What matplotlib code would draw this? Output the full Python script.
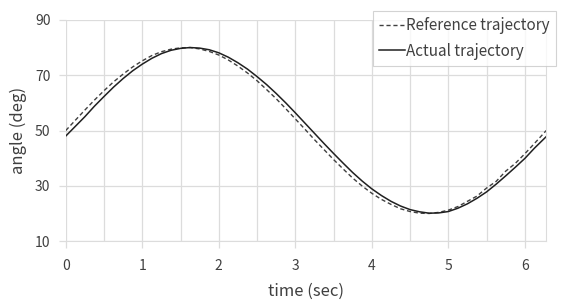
import matplotlib.pyplot as plt
import numpy as np

plt.rcParams['font.family'] = ['Noto Sans CJK KR', 'DejaVu Sans']

# values (every 0.125 s)
t = [0, 0.125, 0.25, 0.375, 0.5, 0.625, 0.75, 0.875, 1.0, 1.125, 1.25, 1.375,
     1.5, 1.625, 1.75, 1.875, 2.0, 2.125, 2.25, 2.375, 2.5, 2.625, 2.75,
     2.875, 3.0, 3.125, 3.25, 3.375, 3.5, 3.625, 3.75, 3.875, 4.0, 4.125,
     4.25, 4.375, 4.5, 4.625, 4.75, 4.875, 5.0, 5.125, 5.25, 5.375, 5.5,
     5.625, 5.75, 5.875, 6.0, 6.125, 6.28]
ref_angle = [50, 53.7, 57.4, 61.0, 64.4, 67.6, 70.4, 73.0, 75.2, 77.1, 78.5,
             79.4, 79.9, 80.0, 79.5, 78.6, 77.3, 75.5, 73.3, 70.8, 68.0, 64.8,
             61.5, 57.9, 54.2, 50.5, 46.7, 43.1, 39.5, 36.1, 32.8, 29.9, 27.3,
             25.1, 23.3, 21.7, 20.7, 20.1, 20.0, 20.4, 21.2, 22.5, 24.4, 26.3,
             29.2, 31.6, 35.3, 38.1, 41.6, 45.3, 50.0]
act_angle = [48, 51.5, 55.0, 58.8, 62.3, 65.7, 68.8, 71.6, 74.0, 76.1, 77.8,
             79.0, 79.7, 80.0, 79.8, 79.2, 78.1, 76.5, 74.5, 72.2, 69.5, 66.6,
             63.4, 60.0, 56.4, 52.7, 49.0, 45.3, 41.7, 38.2, 34.8, 31.7, 28.9,
             26.5, 24.4, 22.7, 21.4, 20.6, 20.1, 20.2, 20.7, 21.9, 23.5, 25.5,
             27.8, 30.6, 33.6, 36.7, 39.9, 43.6, 47.8]
x_ticks = [0, 1, 2, 3, 4, 5, 6]
y_ticks = [10, 30, 50, 70, 90]

txt = '#404040'
grid = '#dcdcdc'

fig = plt.figure(figsize=(5.62, 3.06), dpi=100)
ax = fig.add_axes([0.117, 0.212, 0.855, 0.723])

ax.plot(t, ref_angle, '--', color='#404040', linewidth=1.0, dashes=(3, 2),
        label='Reference trajectory')
ax.plot(t, act_angle, '-', color='#202020', linewidth=1.1,
        label='Actual trajectory')

ax.set_xlim(0, 6.28)
ax.set_ylim(10, 90)
ax.set_xticks(x_ticks)
ax.set_xticks(np.arange(0.5, 6.3, 0.5), minor=True)
ax.set_yticks(y_ticks)
ax.grid(True, which='both', color=grid, linewidth=0.9)
ax.tick_params(which='minor', length=0)
ax.tick_params(which='major', length=5, width=0.9, color=grid, colors=txt,
               labelsize=10)
ax.tick_params(axis='x', color=grid, pad=8)
ax.tick_params(axis='y', color=grid, pad=6)
for sp in ax.spines.values():
    sp.set_color(grid)
ax.spines['top'].set_visible(False)
ax.spines['left'].set_visible(False)
ax.set_axisbelow(True)

ax.set_xlabel('time (sec)', color=txt, fontsize=12, labelpad=7)
ax.set_ylabel('angle (deg)', color=txt, fontsize=12, labelpad=6)

leg = ax.legend(loc='upper right', bbox_to_anchor=(1.02, 1.04),
                fontsize=11, frameon=True, fancybox=False,
                handlelength=1.7, handletextpad=0.05, borderpad=0.4,
                labelspacing=0.55, borderaxespad=0)
leg.get_frame().set_edgecolor('#c8c8c8')
leg.get_frame().set_linewidth(0.8)
for tx in leg.get_texts():
    tx.set_color(txt)

fig.savefig('out.png', dpi=100)
